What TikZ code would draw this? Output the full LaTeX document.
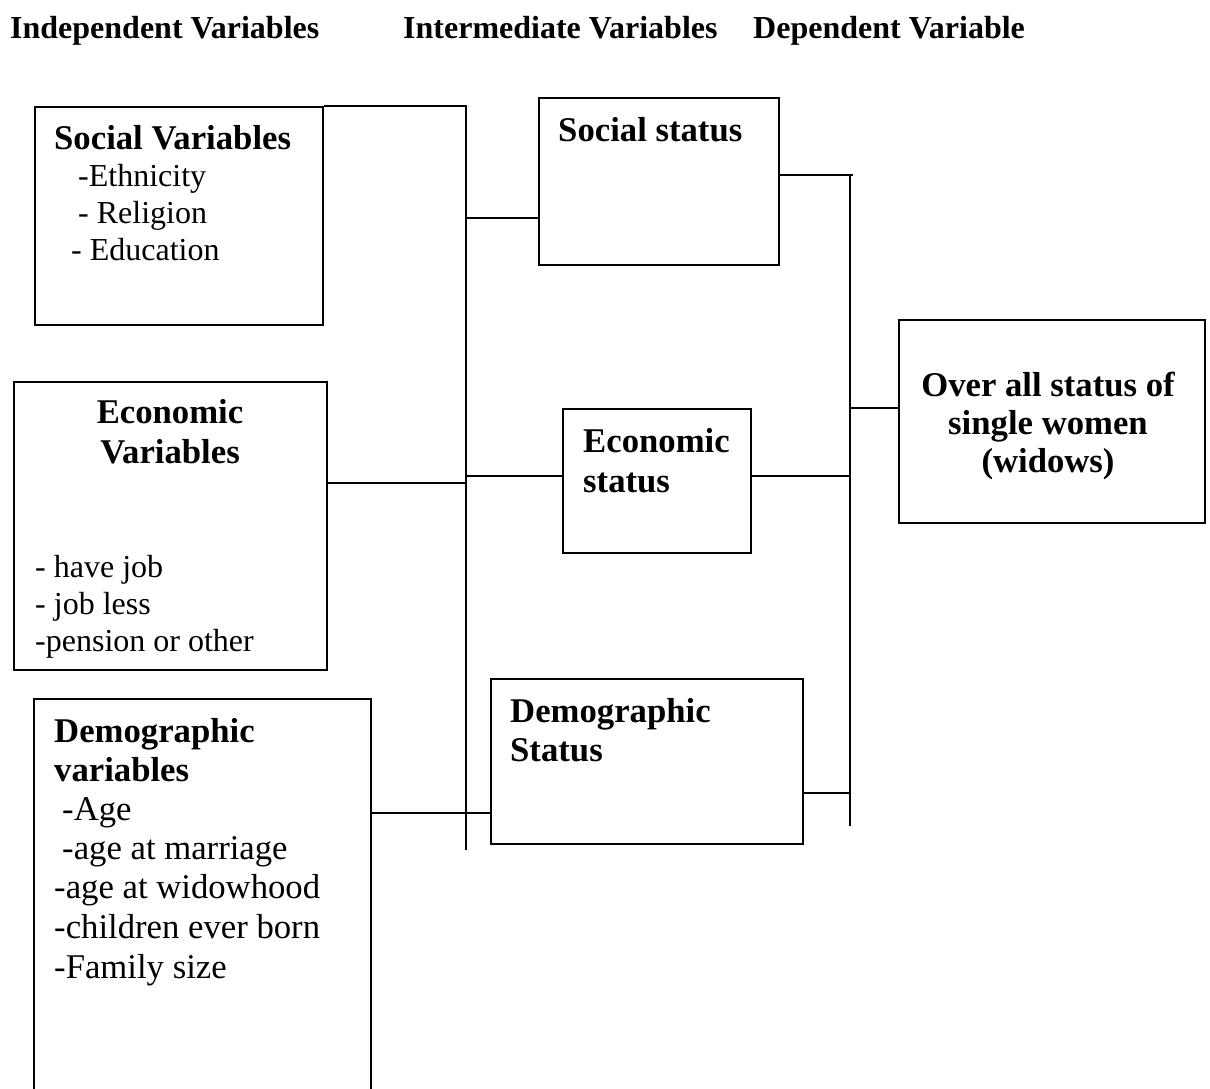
\documentclass[tikz,border=0pt]{standalone}
\usepackage{fontspec}
\setmainfont{Liberation Serif}
\begin{document}
\begin{tikzpicture}[x=1pt,y=-1pt,
  box/.style={draw, line width=2pt, rectangle, inner sep=0pt, anchor=north west},
  txt/.style={anchor=base west, inner sep=0pt, font=\fontsize{32}{37}\selectfont},
  txtb/.style={anchor=base west, inner sep=0pt, font=\fontsize{34.7}{40}\selectfont},
  ttl/.style={anchor=base west, inner sep=0pt, font=\fontsize{34.7}{40}\selectfont\bfseries},
  ttlc/.style={anchor=base, inner sep=0pt, font=\fontsize{34.7}{40}\selectfont\bfseries},
  hdr/.style={anchor=base west, inner sep=0pt, font=\fontsize{32}{37}\selectfont\bfseries},
  conn/.style={line width=2pt}]
\useasboundingbox (0,0) rectangle (1210,1088);
\clip (0,0) rectangle (1210,1088);
\fill[white] (0,0) rectangle (1210,1088);

% headers
\node[hdr] (h1) at (10,38) {Independent Variables};
\node[hdr] (h2) at (403,38) {Intermediate Variables};
\node[hdr] (h3) at (753,38) {Dependent Variable};

% boxes
\node[box, minimum width=288pt, minimum height=218pt] (sv) at (34,106) {};
\node[box, minimum width=313pt, minimum height=288pt] (ev) at (13,381) {};
\node[box, minimum width=337pt, minimum height=420pt] (dv) at (33,698) {};
\node[box, minimum width=240pt, minimum height=167pt] (ss) at (538,97) {};
\node[box, minimum width=188pt, minimum height=144pt] (es) at (562,408) {};
\node[box, minimum width=312pt, minimum height=165pt] (ds) at (490,678) {};
\node[box, minimum width=306pt, minimum height=203pt] (ov) at (898,319) {};

% social variables text
\node[ttl] (svt) at (54,149) {Social Variables};
\node[txt] (sv1) at (78,186) {-Ethnicity};
\node[txt] (sv2) at (78,223) {- Religion};
\node[txt] (sv3) at (71,260) {- Education};

% economic variables text
\node[ttlc] (evt1) at (170,423) {Economic};
\node[ttlc] (evt2) at (170,463) {Variables};
\node[txt] (ev1) at (35,577) {- have job};
\node[txt] (ev2) at (35,614) {- job less};
\node[txt] (ev3) at (35,651) {-pension or other};

% demographic variables text
\node[ttl] (dvt1) at (54,742) {Demographic};
\node[ttl] (dvt2) at (54,781) {variables};
\node[txtb] (dv1) at (62,820) {-Age};
\node[txtb] (dv2) at (62,859) {-age at marriage};
\node[txtb] (dv3) at (54,898) {-age at widowhood};
\node[txtb] (dv4) at (54,938) {-children ever born};
\node[txtb] (dv5) at (54,978) {-Family size};

% intermediate text
\node[ttl] (sst) at (558,141) {Social status};
\node[ttl] (est1) at (583,452) {Economic};
\node[ttl] (est2) at (583,492) {status};
\node[ttl] (dst1) at (510,722) {Demographic};
\node[ttl] (dst2) at (510,761) {Status};

% dependent text
\node[ttlc] (ovt1) at (1048,396) {Over all status of};
\node[ttlc] (ovt2) at (1048,434) {single women};
\node[ttlc] (ovt3) at (1048,472) {(widows)};

% bus coordinates
\coordinate (bLt) at (466,106);
\coordinate (bLb) at (466,850);
\coordinate (bRt) at (850,175);
\coordinate (bRb) at (850,826);
\coordinate (j1) at (466,218);
\coordinate (j2) at (466,483);
\coordinate (j3) at (466,476);
\coordinate (j4) at (466,813);
\coordinate (k1) at (853,175);
\coordinate (k2) at (850,476);
\coordinate (k3) at (850,793);
\coordinate (k4) at (850,408);

% connectors
\draw[conn] (sv.north east) -- (bLt) -- (bLb);
\draw[conn] (j1) -- (j1 -| ss.west);
\draw[conn] (j2 -| ev.east) -- (j2);
\draw[conn] (j3) -- (j3 -| es.west);
\draw[conn] (j4 -| dv.east) -- (j4 -| ds.west);
\draw[conn] (k1 -| ss.east) -- (k1);
\draw[conn] (bRt) -- (bRb);
\draw[conn] (k2 -| es.east) -- (k2);
\draw[conn] (k3 -| ds.east) -- (k3);
\draw[conn] (k4) -- (k4 -| ov.west);
\end{tikzpicture}
\end{document}
